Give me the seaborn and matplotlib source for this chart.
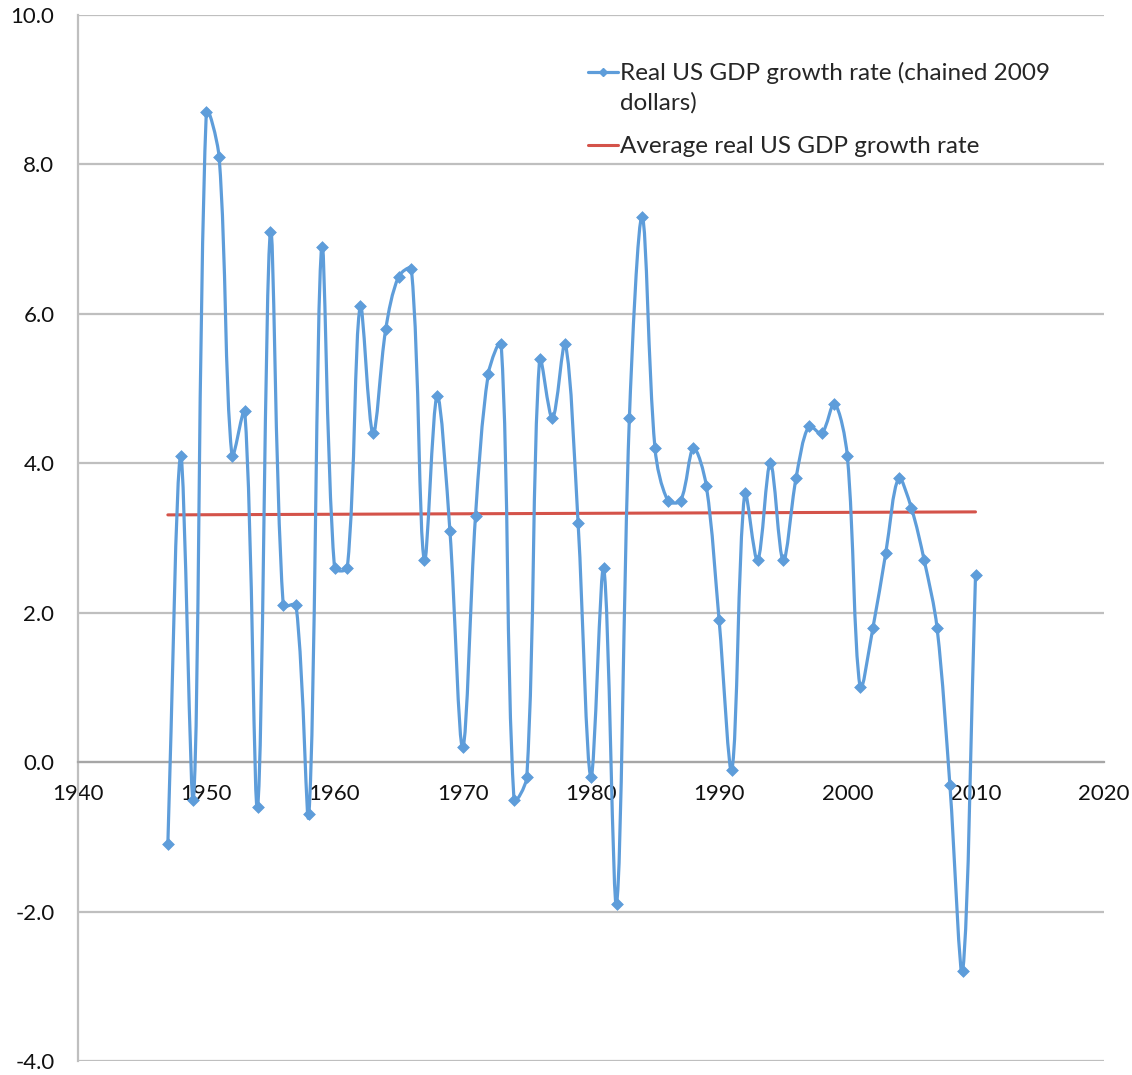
import numpy as np
import pandas as pd
import matplotlib
matplotlib.use("Agg")
import matplotlib.pyplot as plt
import seaborn as sns
from matplotlib.path import Path
from matplotlib.patches import PathPatch
from matplotlib.lines import Line2D
from matplotlib.legend_handler import HandlerLine2D

# Real US GDP growth rate, chained 2009 dollars (percent)
years = list(range(1947, 2011))
growth = [-1.1, 4.1, -0.5, 8.7, 8.1, 4.1, 4.7, -0.6, 7.1, 2.1,
          2.1, -0.7, 6.9, 2.6, 2.6, 6.1, 4.4, 5.8, 6.5, 6.6,
          2.7, 4.9, 3.1, 0.2, 3.3, 5.2, 5.6, -0.5, -0.2, 5.4,
          4.6, 5.6, 3.2, -0.2, 2.6, -1.9, 4.6, 7.3, 4.2, 3.5,
          3.5, 4.2, 3.7, 1.9, -0.1, 3.6, 2.7, 4.0, 2.7, 3.8,
          4.5, 4.4, 4.8, 4.1, 1.0, 1.8, 2.8, 3.8, 3.4, 2.7,
          1.8, -0.3, -2.8, 2.5]

# average line (end points as drawn)
avg_years = [1947, 2010]
avg_values = [3.31, 3.35]

x_ticks = [1940, 1950, 1960, 1970, 1980, 1990, 2000, 2010, 2020]
y_ticks = [-4.0, -2.0, 0.0, 2.0, 4.0, 6.0, 8.0, 10.0]

BLUE = "#5E9DDA"
RED = "#D4534A"
GRID = "#BFBFBF"

sns.set_style("white")
plt.rcParams["font.family"] = ["Lato", "DejaVu Sans"]

df = pd.DataFrame({"year": years, "growth": growth})


def smooth_path(ax, xs, ys):
    """Excel style smoothed line: bezier through the points, tangents
    weighted by segment length on screen."""
    pts = ax.transData.transform(np.column_stack([xs, ys]).astype(float))
    n = len(pts)
    verts = [pts[0]]
    codes = [Path.MOVETO]
    for i in range(n - 1):
        p0 = pts[i - 1] if i > 0 else pts[i]
        p1 = pts[i]
        p2 = pts[i + 1]
        p3 = pts[i + 2] if i + 2 < n else pts[i + 1]
        l01 = np.hypot(*(p1 - p0))
        l12 = np.hypot(*(p2 - p1))
        l23 = np.hypot(*(p3 - p2))
        c1 = p1 + (p2 - p0) * (l12 / (l01 + l12)) / 3.0
        c2 = p2 - (p3 - p1) * (l12 / (l12 + l23)) / 3.0
        verts += [c1, c2, p2]
        codes += [Path.CURVE4] * 3
    verts = ax.transData.inverted().transform(np.array(verts))
    return Path(verts, codes)


class RaisedLine(HandlerLine2D):
    """legend line placed level with the first row of a two-row label"""
    def __init__(self, shift, **kw):
        super().__init__(**kw)
        self.shift = shift

    def create_artists(self, legend, orig_handle, xdescent, ydescent,
                       width, height, fontsize, trans):
        arts = super().create_artists(legend, orig_handle, xdescent, ydescent,
                                      width, height, fontsize, trans)
        for a in arts:
            a.set_ydata(np.asarray(a.get_ydata()) + self.shift)
        return arts


fig = plt.figure(figsize=(11.32, 10.75), dpi=100)
ax = fig.add_axes([0.069, 0.013, 0.906, 0.973])
ax.set_xlim(1940, 2020)
ax.set_ylim(-4, 10)

# smoothed series line
patch = PathPatch(smooth_path(ax, df["year"], df["growth"]), facecolor="none",
                  edgecolor=BLUE, lw=2.3, zorder=3, capstyle="round",
                  joinstyle="round")
ax.add_patch(patch)

# data markers
sns.scatterplot(data=df, x="year", y="growth", ax=ax, marker="D", s=36,
                color=BLUE, edgecolor=BLUE, linewidth=0.5, zorder=4,
                legend=False)

# average line
sns.lineplot(x=avg_years, y=avg_values, ax=ax, color=RED, lw=2.2, zorder=2)

ax.set_xlim(1940, 2020)
ax.set_ylim(-4, 10)
ax.set_xticks(x_ticks)
ax.set_xticklabels([str(t) for t in x_ticks])
ax.set_yticks(y_ticks)
ax.set_yticklabels([f"{t:.1f}" for t in y_ticks])
ax.set_xlabel("")
ax.set_ylabel("")

ax.yaxis.grid(True, color=GRID, lw=1.6)
ax.xaxis.grid(False)
ax.set_axisbelow(True)

for s in ["top", "right"]:
    ax.spines[s].set_visible(False)
ax.spines["left"].set_color(GRID)
ax.spines["left"].set_linewidth(1.6)
ax.spines["bottom"].set_position(("data", 0))
ax.spines["bottom"].set_color("#A6A6A6")
ax.spines["bottom"].set_linewidth(1.6)

ax.tick_params(axis="y", length=7, width=1.6, color=GRID, pad=10,
               labelsize=16, labelcolor="#111111")
ax.tick_params(axis="x", length=5, width=1.6, color="#A6A6A6", pad=11,
               labelsize=16, labelcolor="#111111")

h_gdp = Line2D([], [], color=BLUE, lw=2.3, marker="D", markersize=4)
h_avg = Line2D([], [], color=RED, lw=2.2)
labels = ["Real US GDP growth rate (chained 2009\ndollars)",
          "Average real US GDP growth rate"]
leg = fig.legend([h_gdp, h_avg], labels, loc="upper left",
                 bbox_to_anchor=(0.519, 0.942), frameon=False, fontsize=17.5,
                 handlelength=1.25, handletextpad=0.1, borderpad=0,
                 borderaxespad=0, labelspacing=0.92,
                 handler_map={h_gdp: RaisedLine(11.5)})
for t in leg.get_texts():
    t.set_linespacing(1.45)

fig.savefig("out.png", dpi=100, facecolor="white")
